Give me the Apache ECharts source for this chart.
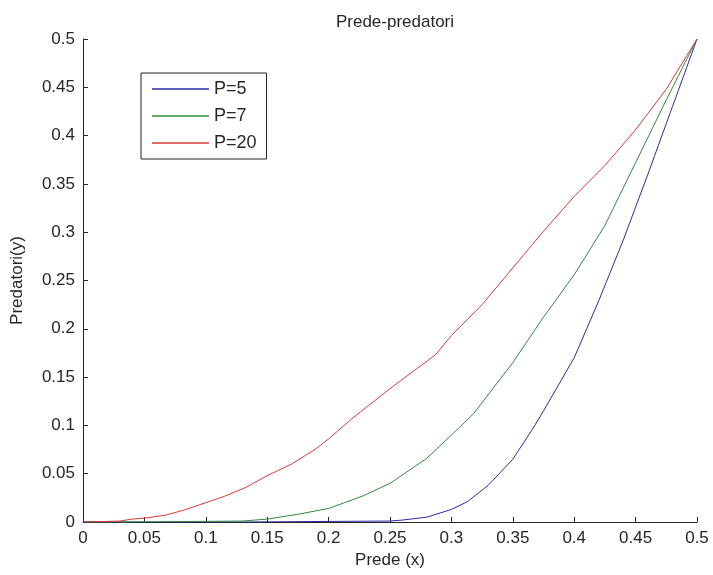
<!DOCTYPE html>
<html>
<head>
<meta charset="utf-8">
<script src="https://cdn.jsdelivr.net/npm/echarts@6/dist/echarts.min.js"></script>
<style>
  html, body { margin: 0; padding: 0; background: #fff; }
  #chart { width: 713px; height: 575px; }
</style>
</head>
<body>
<div id="chart"></div>
<script>
// ---- Data ----
const titleText = 'Prede-predatori';
const xAxisName = 'Prede (x)';
const yAxisName = 'Predatori(y)';
const seriesNames = ['P=5', 'P=7', 'P=20'];

const p5X = [0, 0.13, 0.25, 0.26, 0.28, 0.3, 0.313, 0.33, 0.35, 0.366, 0.375, 0.4, 0.42, 0.44, 0.46, 0.48, 0.5];
const p5Y = [0, 0, 0.001, 0.002, 0.005, 0.013, 0.021, 0.038, 0.065, 0.096, 0.115, 0.17, 0.229, 0.292, 0.36, 0.43, 0.5];

const p7X = [0, 0.04, 0.13, 0.15, 0.175, 0.2, 0.228, 0.25, 0.28, 0.3, 0.318, 0.35, 0.375, 0.4, 0.425, 0.45, 0.475, 0.5];
const p7Y = [0, 0, 0.001, 0.003, 0.008, 0.014, 0.027, 0.040, 0.066, 0.090, 0.112, 0.165, 0.212, 0.256, 0.307, 0.372, 0.437, 0.5];

const p20X = [0, 0.03, 0.04, 0.05, 0.067, 0.084, 0.1, 0.116, 0.133, 0.15, 0.17, 0.19, 0.2, 0.22, 0.25, 0.27, 0.287, 0.3, 0.325, 0.35, 0.375, 0.4, 0.425, 0.45, 0.475, 0.5];
const p20Y = [0, 0.001, 0.003, 0.004, 0.007, 0.013, 0.020, 0.027, 0.036, 0.048, 0.060, 0.076, 0.086, 0.108, 0.138, 0.157, 0.173, 0.193, 0.225, 0.263, 0.301, 0.337, 0.369, 0.406, 0.448, 0.5];

const xTickMin = 0, xTickMax = 0.5, xTickStep = 0.05;
const yTickMin = 0, yTickMax = 0.5, yTickStep = 0.05;

// ---- Build ----
const pairs = (xs, ys) => xs.map((x, i) => [x, ys[i]]);
const colors = ['#2b2ba6', '#338a3e', '#d93a3a'];
const font = 'Liberation Sans, Arial, sans-serif';

const axisCommon = {
  axisLine: { show: true, lineStyle: { color: '#262626', width: 1 } },
  axisTick: { show: true, inside: true, length: 5, lineStyle: { color: '#262626' } },
  splitLine: { show: false },
  axisLabel: { color: '#262626', fontFamily: font, fontSize: 17, margin: 8 }
};

const chart = echarts.init(document.getElementById('chart'), null, { renderer: 'canvas' });
chart.setOption({
  animation: false,
  backgroundColor: '#fff',
  title: {
    text: titleText,
    left: 390, top: 9, textAlign: 'center',
    textStyle: { fontFamily: font, fontSize: 17, fontWeight: 'normal', color: '#262626' }
  },
  grid: { left: 83, right: 16, top: 39, bottom: 53, containLabel: false },
  legend: {
    data: seriesNames,
    orient: 'vertical',
    left: 141, top: 73,
    padding: [7, 10, 7, 11],
    itemGap: 9,
    itemWidth: 57, itemHeight: 1.5,
    icon: 'rect',
    borderColor: '#222', borderWidth: 1,
    backgroundColor: '#fff',
    textStyle: { fontFamily: font, fontSize: 18, color: '#262626', lineHeight: 18 }
  },
  xAxis: Object.assign({
    type: 'value', min: xTickMin, max: xTickMax, interval: xTickStep,
    name: xAxisName, nameLocation: 'middle', nameGap: 30,
    nameTextStyle: { fontFamily: font, fontSize: 17, color: '#262626' }
  }, axisCommon),
  yAxis: Object.assign({
    type: 'value', min: yTickMin, max: yTickMax, interval: yTickStep,
    name: yAxisName, nameLocation: 'middle', nameGap: 57,
    nameTextStyle: { fontFamily: font, fontSize: 17, color: '#262626' }
  }, axisCommon),
  series: [
    { name: seriesNames[0], type: 'line', data: pairs(p5X, p5Y), showSymbol: false, color: colors[0], lineStyle: { width: 1, color: colors[0] } },
    { name: seriesNames[1], type: 'line', data: pairs(p7X, p7Y), showSymbol: false, color: colors[1], lineStyle: { width: 1, color: colors[1] } },
    { name: seriesNames[2], type: 'line', data: pairs(p20X, p20Y), showSymbol: false, color: colors[2], lineStyle: { width: 1, color: colors[2] } }
  ]
});
</script>
</body>
</html>
